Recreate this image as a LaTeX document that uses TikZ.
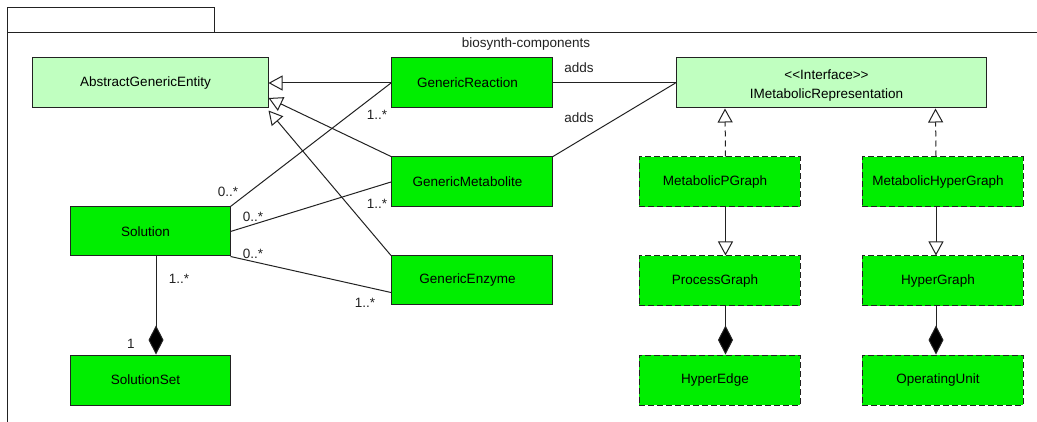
\documentclass[tikz,border=0pt]{standalone}
\usepackage{fontspec}
\setmainfont{Liberation Sans}
\usetikzlibrary{arrows.meta,calc}
\definecolor{boxgreen}{RGB}{0,238,0}
\definecolor{palegreen}{RGB}{192,255,192}
\definecolor{ink}{RGB}{34,34,34}
\tikzset{
  cls/.style={draw=ink, line width=1pt, fill=boxgreen, minimum width=161pt, minimum height=50pt, inner sep=0pt,
    font=\fontsize{13.5}{16}\selectfont, text=black, execute at begin node={\hspace*{-9pt}}},
  pale/.style={cls, fill=palegreen},
  dashedcls/.style={cls, dash pattern=on 6pt off 3pt},
  conn/.style={draw=ink, line width=1pt},
  gen/.style={conn, -{Triangle[open, length=14pt, width=15pt, fill=white]}},
  real/.style={gen, dash pattern=on 6pt off 4pt},
  comp/.style={conn, -{Diamond[length=29pt, width=15pt, fill=black]}},
  mult/.style={font=\fontsize{13.5}{16}\selectfont, text=ink, inner sep=0pt},
}
\begin{document}
\begin{tikzpicture}[x=1pt, y=-1pt]
\useasboundingbox (0,0) rectangle (1037,422);
\fill[white] (0,0) rectangle (1037,422);

% package frame with its tab
\draw[conn] (7,33) rectangle (214,8);
\draw[conn] (1037,33) -- (7,33) -- (7,422);
\node[mult] (pkg) at (526,44) {biosynth-components};

% classes
\node[pale, minimum width=236pt] (age) at (150,83) {AbstractGenericEntity};
\node[cls] (gr) at (472,83) {GenericReaction};
\node[cls] (gm) at (472,182) {GenericMetabolite};
\node[cls, minimum height=49pt] (ge) at (472,280.5) {GenericEnzyme};
\node[cls, minimum width=160pt, minimum height=49pt] (sol) at (150,231.5) {Solution};
\node[cls, minimum width=160pt] (solset) at (150,380) {SolutionSet};
\node[pale, minimum width=310pt, execute at begin node={}, align=center,
      font=\fontsize{13.5}{19}\selectfont] (imr) at (831,83)
  {\rule{0pt}{15.7pt}<{}<Interface>{}>\\IMetabolicRepresentation};
\node[dashedcls] (mpg) at (719.5,182) {MetabolicPGraph};
\node[dashedcls] (mhg) at (942.5,182) {MetabolicHyperGraph};
\node[dashedcls] (pg) at (719.5,281) {ProcessGraph};
\node[dashedcls] (hg) at (942.5,281) {HyperGraph};
\node[dashedcls] (he) at (719.5,380) {HyperEdge};
\node[dashedcls] (ou) at (942.5,380) {OperatingUnit};

% generalisations towards AbstractGenericEntity
\coordinate (ageM) at ($(age.east)+(0,15)$);
\draw[gen] (gr.west) -- (age.east);
\draw[gen] (gm.north west) -- (ageM);
\draw[gen] (ge.north west) -- ($(age.south east)+(0,2)$);

% associations of Solution
\draw[conn] (sol.north east) -- (gr.west);
\draw[conn] (sol.east) -- (gm.west);
\draw[conn] (sol.south east) -- ($(ge.west)+(0,12)$);
\draw[comp] ($(sol.south)+(6,0)$) -- ($(solset.north)+(6,0)$);

% multiplicities
\node[mult] (m1) at (228,192) {0..*};
\node[mult] (m2) at (253,217) {0..*};
\node[mult] (m3) at (253,254) {0..*};
\node[mult] (m4) at (377,115) {1..*};
\node[mult] (m5) at (377,204) {1..*};
\node[mult] (m6) at (365,303) {1..*};
\node[mult] (m7) at (179,279) {1..*};
\node[mult] (m8) at (131,344) {1};

% "adds" associations
\draw[conn] (gr.east) -- (imr.west);
\draw[conn] (gm.north east) -- (imr.west);
\node[mult] (a1) at (579,68) {adds};
\node[mult] (a2) at (579,118) {adds};

% realisations of the interface
\draw[real] ($(mpg.north)+(6,0)$) -- ($(imr.south west)+(49.5,0)$);
\draw[real] ($(mhg.north)+(-6.5,0)$) -- ($(imr.south west)+(260,0)$);

% graph hierarchy
\draw[gen] ($(mpg.south)+(6,0)$) -- ($(pg.north)+(6,0)$);
\draw[gen] ($(mhg.south)+(-6.5,0)$) -- ($(hg.north)+(-6.5,0)$);
\draw[comp] ($(pg.south)+(6,0)$) -- ($(he.north)+(6,0)$);
\draw[comp] ($(hg.south)+(-6.5,0)$) -- ($(ou.north)+(-6.5,0)$);
\end{tikzpicture}
\end{document}
